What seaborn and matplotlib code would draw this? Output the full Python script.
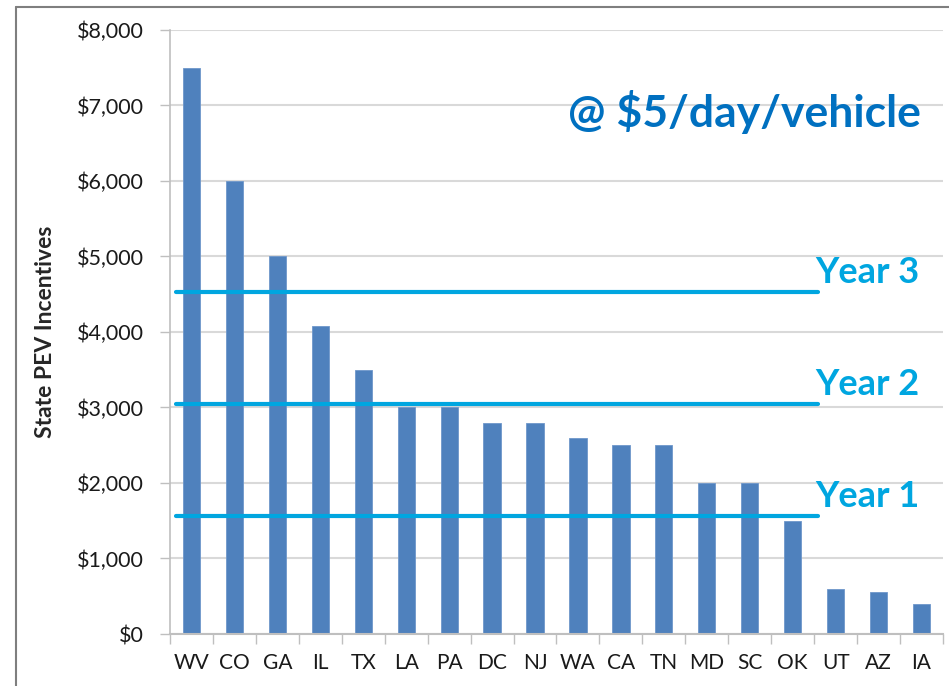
import matplotlib
matplotlib.use("Agg")
import matplotlib.pyplot as plt
import seaborn as sns
import pandas as pd
from matplotlib.lines import Line2D
from matplotlib.ticker import FuncFormatter, FixedLocator

# data
states = ["WV", "CO", "GA", "IL", "TX", "LA", "PA", "DC", "NJ", "WA",
          "CA", "TN", "MD", "SC", "OK", "UT", "AZ", "IA"]
incentives = [7500, 6000, 5000, 4075, 3500, 3000, 3000, 2800, 2800, 2600,
              2500, 2500, 2000, 2000, 1500, 600, 550, 400]
year_labels = ["Year 1", "Year 2", "Year 3"]
year_levels = [1560, 3050, 4530]
note = "@ $5/day/vehicle"

df = pd.DataFrame({"state": states, "incentive": incentives})

sns.set_style("whitegrid", {"grid.color": "#D9D9D9", "axes.edgecolor": "#BFBFBF"})
plt.rcParams["font.family"] = ["Lato", "DejaVu Sans"]

fig = plt.figure(figsize=(9.49, 6.86), dpi=100)
ax = fig.add_axes([0.1791, 0.0758, 0.8146, 0.8805])

sns.barplot(data=df, x="state", y="incentive", color="#4F81BD", width=0.4,
            saturation=1, edgecolor="#6F97CB", linewidth=0.6, ax=ax)

ax.set_ylim(0, 8000)
ax.set_xlim(-0.5, len(states) - 0.5)
ax.set_yticks(range(0, 8001, 1000))
ax.yaxis.set_major_formatter(FuncFormatter(lambda v, p: f"${v:,.0f}"))
ax.grid(axis="x", visible=False)
ax.grid(axis="y", linewidth=1.5)

# tick marks between categories like Excel
ax.xaxis.set_minor_locator(FixedLocator([i - 0.5 for i in range(len(states) + 1)]))
ax.tick_params(axis="x", which="major", length=0, pad=14, labelsize=15, colors="#1a1a1a")
ax.tick_params(axis="x", which="minor", length=7, width=1, color="#BFBFBF", direction="out", bottom=True)
ax.tick_params(axis="y", length=7, width=1, color="#BFBFBF", direction="out", left=True,
               labelsize=15.5, labelcolor="#1a1a1a", pad=12)

for s in ["top", "right"]:
    ax.spines[s].set_visible(False)
ax.spines["left"].set_linewidth(1.2)
ax.spines["bottom"].set_linewidth(1.5)

ax.set_xlabel("")
ax.set_ylabel("State PEV Incentives", fontsize=16.5, fontweight="bold")
ax.yaxis.set_label_coords(-0.148, 0.5)

# year threshold lines
for lab, lev in zip(year_labels, year_levels):
    ax.axhline(lev, xmin=0.008, xmax=0.838, color="#00A6E0", linewidth=3)
    ax.text(0.835, lev + 40, lab, transform=ax.get_yaxis_transform(), color="#00A6E0",
            fontsize=26, fontweight="bold", ha="left", va="bottom")

ax.text(0.7426, 0.864, note, transform=ax.transAxes, color="#0070C0",
        fontsize=32, fontweight="bold", ha="center", va="center")

# outer slide frame
fig.add_artist(Line2D([16 / 949, 16 / 949], [0, 1 - 7 / 686], color="#7F7F7F", linewidth=1.5))
fig.add_artist(Line2D([16 / 949, 1], [1 - 7 / 686, 1 - 7 / 686], color="#7F7F7F", linewidth=1.5))

fig.savefig("out.png", dpi=100)
